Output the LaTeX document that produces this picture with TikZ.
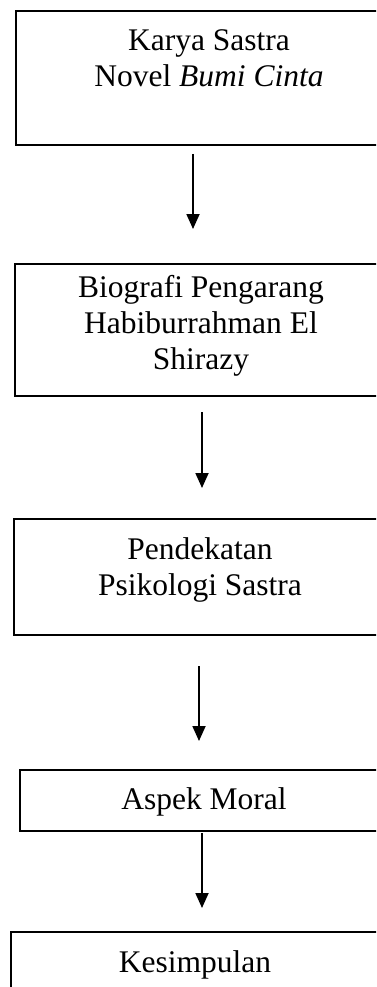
\documentclass[tikz,border=0pt]{standalone}
\usepackage{fontspec}
\setmainfont{Liberation Serif}
\usetikzlibrary{arrows.meta}
\begin{document}
\begin{tikzpicture}[x=1pt,y=-1pt,
  box/.style={draw, line width=2pt, anchor=north west, inner sep=0pt},
  lbl/.style={inner sep=0pt, align=center, font=\fontsize{31.5pt}{36pt}\selectfont, anchor=base},
  arr/.style={line width=1.8pt, -{Triangle[length=15pt,width=13pt]}}]
\useasboundingbox (0,0) rectangle (376,987);
\clip (0,0) rectangle (376,987);
% boxes
\node[box, minimum width=396pt, minimum height=134pt] (b1) at (15,10) {};
\node[box, minimum width=373pt, minimum height=132pt] (b2) at (14,263) {};
\node[box, minimum width=374pt, minimum height=116pt] (b3) at (13,518) {};
\node[box, minimum width=370pt, minimum height=61pt] (b4) at (19,769) {};
\node[box, minimum width=370pt, minimum height=120pt] (b5) at (10,931) {};
% labels (base anchor = baseline of last line)
\node[lbl] (t1) at (209,87) {Karya Sastra\\Novel \textit{Bumi Cinta}};
\node[lbl] (t2) at (201,369) {Biografi Pengarang\\Habiburrahman El\\Shirazy};
\node[lbl] (t3) at (200,595) {Pendekatan\\Psikologi Sastra};
\node[lbl] (t4) at (204,809) {Aspek Moral};
\node[lbl] (t5) at (195,972) {Kesimpulan};
% arrows
\coordinate (a1s) at (193,154); \coordinate (a1e) at (193,229);
\coordinate (a2s) at (202,412); \coordinate (a2e) at (202,488);
\coordinate (a3s) at (199,666); \coordinate (a3e) at (199,741);
\coordinate (a4s) at (202,833); \coordinate (a4e) at (202,908);
\draw[arr] (a1s) -- (a1e);
\draw[arr] (a2s) -- (a2e);
\draw[arr] (a3s) -- (a3e);
\draw[arr] (a4s) -- (a4e);
\end{tikzpicture}
\end{document}
